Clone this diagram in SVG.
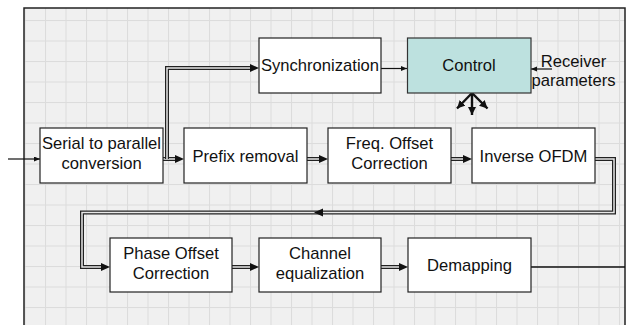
<svg xmlns="http://www.w3.org/2000/svg" width="628" height="325" viewBox="0 0 628 325">
<style>
.box{fill:#ffffff;stroke:#222;stroke-width:1.2}
.ctl{fill:#bde1df;stroke:#333;stroke-width:1.2}
text{font-family:"Liberation Sans",Arial,sans-serif;font-size:16.6px;fill:#111;text-anchor:middle}
.dbl-o{fill:none;stroke:#222;stroke-width:4}
.dbl-i{fill:none;stroke:#e8e8e8;stroke-width:1.5}
.thin{fill:none;stroke:#111;stroke-width:1.2}
.thick{fill:none;stroke:#111;stroke-width:2.4}
.ah{fill:#111}
</style>
<defs>
<pattern id="grid" x="24.5" y="-0.5" width="20.5" height="20.5" patternUnits="userSpaceOnUse">
<rect width="20.5" height="20.5" fill="#f0f0f0"/>
<rect x="0" y="0" width="1" height="20.5" fill="#dcdcdc"/>
<rect x="0" y="0" width="20.5" height="1" fill="#dcdcdc"/>
</pattern>
<marker id="dblArrow" markerUnits="userSpaceOnUse" markerWidth="10" markerHeight="10" refX="0" refY="4" orient="auto">
<path d="M0,0 L9,4 L0,8 z" fill="#111"/>
</marker>
<marker id="thinArrow" markerUnits="userSpaceOnUse" markerWidth="8" markerHeight="8" refX="6" refY="2.5" orient="auto">
<path d="M0,0 L6,2.5 L0,5 z" fill="#111"/>
</marker>
<marker id="thickArrow" markerUnits="userSpaceOnUse" markerWidth="10" markerHeight="10" refX="8" refY="4" orient="auto">
<path d="M0,0 L8,4 L0,8 z" fill="#111"/>
</marker>
</defs>
<rect x="0" y="0" width="628" height="325" fill="#ffffff"/>
<rect x="24" y="8" width="601" height="330" fill="url(#grid)" stroke="#222" stroke-width="1.5"/>

<g id="connectors">
<path class="thin" d="M8,159 H40" marker-end="url(#thinArrow)"/>
<path class="dbl-o" d="M163,159 H175" marker-end="url(#dblArrow)"/>
<path class="dbl-i" d="M163,159 H175"/>
<path class="dbl-o" d="M167,159 V68 H250" marker-end="url(#dblArrow)"/>
<path class="dbl-i" d="M167,159 V68 H250"/>
<path class="dbl-o" d="M307,159 H319" marker-end="url(#dblArrow)"/>
<path class="dbl-i" d="M307,159 H319"/>
<path class="dbl-o" d="M451,159 H463" marker-end="url(#dblArrow)"/>
<path class="dbl-i" d="M451,159 H463"/>
<path class="dbl-o" d="M595,159 H614 V212.5 H82 V267 H101" marker-end="url(#dblArrow)"/>
<path class="dbl-i" d="M595,159 H614 V212.5 H82 V267 H101"/>
<path class="ah" d="M314,212.5 L323,208.5 L323,216.5 z"/>
<path class="dbl-o" d="M232,267 H250" marker-end="url(#dblArrow)"/>
<path class="dbl-i" d="M232,267 H250"/>
<path class="dbl-o" d="M381,267 H399" marker-end="url(#dblArrow)"/>
<path class="dbl-i" d="M381,267 H399"/>
<path d="M531,267 H625" fill="none" stroke="#111" stroke-width="1.6"/>
<path class="thin" d="M381,68.5 H407" marker-end="url(#thinArrow)"/>
<path class="thin" d="M552,69 H531" marker-end="url(#thinArrow)"/>
<path class="thick" d="M472,93 V115" marker-end="url(#thickArrow)"/>
<path class="thick" d="M472,93 L457,108.5" marker-end="url(#thickArrow)"/>
<path class="thick" d="M472,93 L487.5,108.5" marker-end="url(#thickArrow)"/>
</g>

<g id="serial">
<rect class="box" x="40" y="128" width="123" height="55"/>
<text x="101.5" y="149">Serial to parallel</text>
<text x="101.5" y="169">conversion</text>
</g>
<g id="prefix">
<rect class="box" x="184" y="128" width="123" height="55"/>
<text x="245.5" y="161.5">Prefix removal</text>
</g>
<g id="freq">
<rect class="box" x="328" y="128" width="123" height="55"/>
<text x="389.5" y="149">Freq. Offset</text>
<text x="389.5" y="169">Correction</text>
</g>
<g id="inverse">
<rect class="box" x="472" y="128" width="123" height="55"/>
<text x="533.5" y="161.5">Inverse OFDM</text>
</g>
<g id="sync">
<rect class="box" x="259" y="38" width="122" height="55"/>
<text x="320" y="71">Synchronization</text>
</g>
<g id="control">
<rect class="ctl" x="407.5" y="38" width="123.5" height="55"/>
<text x="469" y="71">Control</text>
</g>
<g id="receiver">
<text x="573.5" y="67">Receiver</text>
<text x="573.5" y="85.5">parameters</text>
</g>
<g id="phase">
<rect class="box" x="110" y="238" width="122" height="54"/>
<text x="171" y="258.5">Phase Offset</text>
<text x="171" y="278.5">Correction</text>
</g>
<g id="channel">
<rect class="box" x="259" y="238" width="122" height="54"/>
<text x="320" y="258.5">Channel</text>
<text x="320" y="278.5">equalization</text>
</g>
<g id="demapping">
<rect class="box" x="408" y="238" width="123" height="54"/>
<text x="469.5" y="270.5">Demapping</text>
</g>
</svg>
